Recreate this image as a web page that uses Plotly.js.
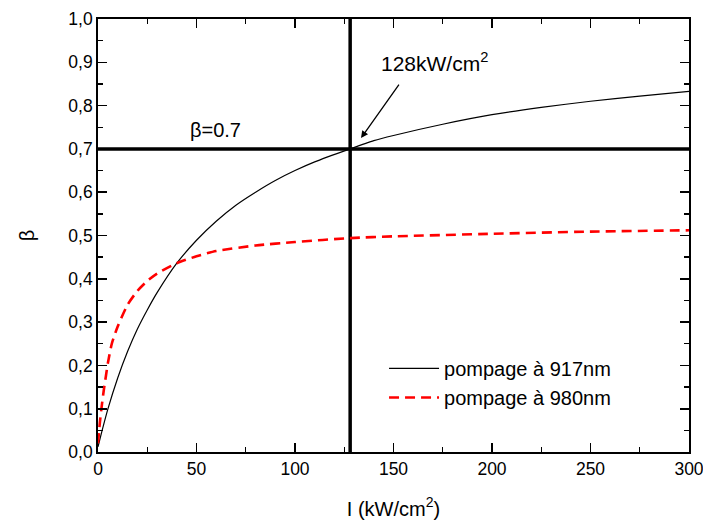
<!DOCTYPE html>
<html>
<head>
<meta charset="utf-8">
<script src="https://cdn.plot.ly/plotly-3.0.1.min.js"></script>
<style>body{margin:0;padding:0;background:#fff}#chart{width:703px;height:525px}</style>
</head>
<body>
<div id="chart"></div>
<script>
// Data
const I917 = [0, 2, 5, 10, 15, 20, 25, 30, 40, 50, 60, 70, 80, 90, 100, 110, 128, 140, 150, 175, 200, 225, 250, 275, 300];
const beta917 = [0.012, 0.048, 0.099, 0.171, 0.232, 0.284, 0.328, 0.368, 0.436, 0.489, 0.533, 0.570, 0.600, 0.627, 0.650, 0.670, 0.700, 0.719, 0.731, 0.757, 0.779, 0.796, 0.810, 0.822, 0.833];
const I980 = [0, 1, 2, 3, 4, 5, 7, 10, 15, 20, 25, 30, 40, 50, 60, 80, 100, 128, 150, 200, 250, 300];
const beta980 = [0.02, 0.07, 0.11, 0.145, 0.175, 0.205, 0.25, 0.29, 0.34, 0.372, 0.395, 0.412, 0.436, 0.452, 0.464, 0.477, 0.485, 0.494, 0.498, 0.504, 0.509, 0.512];
const seriesNames = ['pompage à 917nm', 'pompage à 980nm'];
const refI = 128;       // vertical reference line
const refBeta = 0.7;    // horizontal reference line
const xRange = [0, 300];
const yRange = [0, 1.0];

const traces = [
  {x: [refI, refI], y: yRange, mode: 'lines', line: {color: '#000', width: 3.5}, showlegend: false, hoverinfo: 'skip'},
  {x: xRange, y: [refBeta, refBeta], mode: 'lines', line: {color: '#000', width: 3.5}, showlegend: false, hoverinfo: 'skip'},
  {x: I917, y: beta917, name: seriesNames[0], mode: 'lines', line: {color: '#000', width: 1.2, shape: 'spline', smoothing: 0.6}},
  {x: I980, y: beta980, name: seriesNames[1], mode: 'lines', line: {color: '#ff0000', width: 2.6, dash: '10px,6px', shape: 'spline', smoothing: 0.6}}
];

const fontFam = '"Liberation Sans", Arial, sans-serif';
const axisCommon = {
  showline: true, linecolor: '#000', linewidth: 1.8, mirror: 'ticks',
  ticks: 'inside', ticklen: 9, tickwidth: 1.6, tickcolor: '#000',
  showgrid: false, zeroline: false, ticklabeloverflow: 'allow',
  tickfont: {family: fontFam, size: 17.5, color: '#000'}
};

const layout = {
  width: 703, height: 525,
  margin: {l: 98, r: 14, t: 19, b: 73, autoexpand: false},
  paper_bgcolor: '#fff', plot_bgcolor: '#fff',
  separators: ', ',
  font: {family: fontFam, color: '#000'},
  xaxis: Object.assign({}, axisCommon, {
    range: xRange, dtick: 50, tick0: 0,
    minor: {dtick: 25, ticklen: 5, tickwidth: 1.4, tickcolor: '#000', ticks: 'inside'},
    title: {text: 'I (kW/cm<sup>2</sup>)', font: {family: fontFam, size: 20, color: '#000'}, standoff: 24}
  }),
  yaxis: Object.assign({}, axisCommon, {
    range: yRange, dtick: 0.1, tick0: 0, tickformat: '.1f',
    minor: {dtick: 0.05, ticklen: 5, tickwidth: 1.4, tickcolor: '#000', ticks: 'inside'},
    title: {text: 'β', font: {family: fontFam, size: 20, color: '#000'}, standoff: 28}
  }),
  legend: {
    x: 0.484, y: 0.238, xanchor: 'left', yanchor: 'top',
    bgcolor: 'rgba(0,0,0,0)', borderwidth: 0,
    font: {family: fontFam, size: 20, color: '#000'},
    tracegroupgap: 0, itemwidth: 50
  },
  annotations: [
    {x: 59.5, y: refBeta, yshift: 19, text: 'β=0.7', showarrow: false, font: {family: fontFam, size: 20, color: '#000'}},
    {x: 171, y: 0.9, text: '128kW/cm<sup>2</sup>', showarrow: false, font: {family: fontFam, size: 21, color: '#000'}},
    {x: 133.5, y: 0.725, ax: 39, ay: -55, axref: 'pixel', ayref: 'pixel', text: '', showarrow: true, arrowhead: 2, arrowsize: 1.1, arrowwidth: 1.3, arrowcolor: '#000', standoff: 0}
  ]
};

Plotly.newPlot('chart', traces, layout, {displayModeBar: false, staticPlot: true});
</script>
</body>
</html>
